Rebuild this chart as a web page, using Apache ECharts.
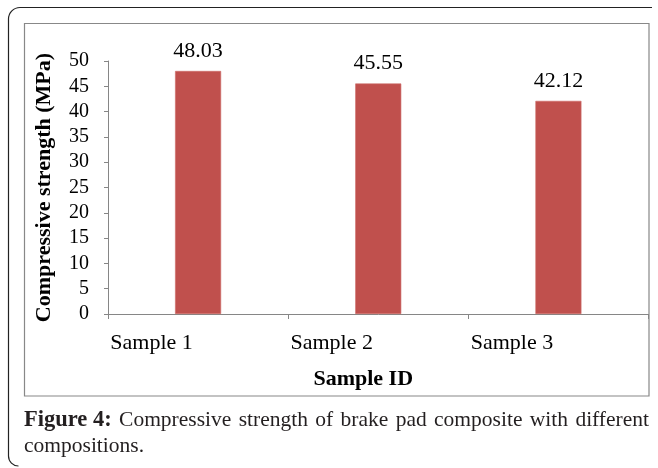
<!DOCTYPE html>
<html><head><meta charset="utf-8">
<script src="https://cdn.jsdelivr.net/npm/echarts@6/dist/echarts.min.js"></script>
<style>html,body{margin:0;padding:0;background:#fff;}#c{width:658px;height:468px;}</style>
</head><body><div id="c"></div>
<script>
const categories = ['Sample 1', 'Sample 2', 'Sample 3'];
const strength = [48.03, 45.55, 42.12];
const yTicks = [0, 5, 10, 15, 20, 25, 30, 35, 40, 45, 50];
const yName = 'Compressive strength (MPa)';
const xName = 'Sample ID';
const captionBold = 'Figure 4:';
const captionLine1 = 'Compressive strength of brake pad composite with different';
const captionLine2 = 'compositions.';

const serif = '"Liberation Serif", "Times New Roman", serif';
const frameStyle = { fill: null, stroke: '#222', lineWidth: 1.2 };

// justified caption layout (line 1 spans the inner frame width)
const capLeft = 24, capRight = 649, capY1 = 420, capY2 = 446;
const fontB = 'bold 22.5px ' + serif, fontR = '21.5px ' + serif;
const ctx = document.createElement('canvas').getContext('2d');
const words = [{ t: captionBold, f: fontB }].concat(captionLine1.split(' ').map(t => ({ t, f: fontR })));
words.forEach(w => { ctx.font = w.f; w.w = ctx.measureText(w.t).width; });
const totalW = words.reduce((s, w) => s + w.w, 0);
const gap = (capRight - capLeft - totalW) / (words.length - 1);
let cx = capLeft;
const captionEls = words.map(w => {
  const el = { type: 'text', x: cx, y: capY1, silent: true,
    style: { text: w.t, font: w.f, fill: '#231f20', textAlign: 'left', textVerticalAlign: 'middle' } };
  cx += w.w + gap;
  return el;
});
captionEls.push({ type: 'text', x: capLeft, y: capY2, silent: true,
  style: { text: captionLine2, font: fontR, fill: '#231f20', textAlign: 'left', textVerticalAlign: 'middle' } });

const chart = echarts.init(document.getElementById('c'));
chart.setOption({
  animation: false,
  backgroundColor: '#fff',
  textStyle: { fontFamily: serif },
  grid: { left: 108, top: 61, right: 9.5, bottom: 154 },
  graphic: [
    { type: 'line', shape: { x1: 8.5, y1: 19, x2: 8.5, y2: 456 }, style: frameStyle, silent: true },
    { type: 'line', shape: { x1: 20, y1: 7.5, x2: 652, y2: 7.5 }, style: frameStyle, silent: true },
    { type: 'arc', shape: { cx: 20, cy: 19, r: 11.5, startAngle: Math.PI, endAngle: Math.PI * 1.5 }, style: frameStyle, silent: true },
    { type: 'arc', shape: { cx: 18.5, cy: 456, r: 10, startAngle: Math.PI * 0.5, endAngle: Math.PI }, style: frameStyle, silent: true },
    { type: 'rect', shape: { x: 24.5, y: 23.5, width: 624.5, height: 372.5 },
      style: { fill: null, stroke: '#888', lineWidth: 1.2 }, silent: true, z: -1 }
  ].concat(captionEls),
  xAxis: {
    type: 'category', data: categories,
    name: xName, nameLocation: 'middle', nameGap: 54,
    nameTextStyle: { fontFamily: serif, fontWeight: 'bold', fontSize: 22, color: '#000', padding: [0, 30, 0, 0] },
    axisLine: { lineStyle: { color: '#868686', width: 1 } },
    axisTick: { show: true, length: 5, lineStyle: { color: '#868686' } },
    axisLabel: { fontFamily: serif, fontSize: 22, color: '#000', margin: 18, padding: [0, 93, 0, 0] }
  },
  yAxis: {
    type: 'value', min: yTicks[0], max: yTicks[yTicks.length - 1], interval: 5,
    name: yName, nameLocation: 'middle', nameGap: 53, nameRotate: 90,
    nameTextStyle: { fontFamily: serif, fontWeight: 'bold', fontSize: 22, color: '#000' },
    axisLine: { show: true, lineStyle: { color: '#868686', width: 1 } },
    axisTick: { show: true, length: 4, lineStyle: { color: '#868686' } },
    splitLine: { show: false },
    axisLabel: { fontFamily: serif, fontSize: 20, color: '#000', margin: 19 }
  },
  series: [{
    type: 'bar', data: strength, barWidth: 46,
    itemStyle: { color: '#C0504D', borderColor: '#CC6A67', borderWidth: 0.6 },
    label: { show: true, position: 'top', distance: 9, fontFamily: serif, fontSize: 22, color: '#000',
      formatter: p => p.value.toFixed(2) }
  }]
});
</script></body></html>
